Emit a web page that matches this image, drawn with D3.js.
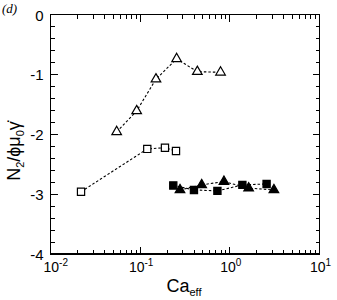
<!DOCTYPE html>
<html>
<head>
	<meta charset='utf-8' />
	<script src="https://d3js.org/d3.v7.min.js"></script>
	<style>
		body { margin: 0; background: white; }
		svg { display: block; font-family: "Liberation Sans", Arial, sans-serif; }
	</style>
</head>
<body>
	<svg id="chart" width="337" height="300"></svg>
	<script>
		// open triangles
		var openTriX = [0.0547, 0.0914, 0.150, 0.255, 0.434, 0.788]
		var openTriY = [-1.96, -1.61, -1.08, -0.74, -0.955, -0.965]
		// open squares
		var openSqX = [0.0219, 0.120, 0.189, 0.251]
		var openSqY = [-2.96, -2.245, -2.225, -2.28]
		// filled squares
		var fillSqX = [0.234, 0.398, 0.727, 1.38, 2.57]
		var fillSqY = [-2.855, -2.93, -2.946, -2.846, -2.83]
		// filled triangles
		var fillTriX = [0.278, 0.485, 0.86, 1.62, 3.10]
		var fillTriY = [-2.93, -2.846, -2.79, -2.90, -2.93]

		var xTicks = [0.01, 0.1, 1, 10]
		var xTickExp = ["-2", "-1", "0", "1"]
		var yTicks = [0, -1, -2, -3, -4]

		var series = [
			{ x: openTriX, y: openTriY, shape: "tri", fill: "white" },
			{ x: openSqX, y: openSqY, shape: "sq", fill: "white" },
			{ x: fillSqX, y: fillSqY, shape: "sq", fill: "black" },
			{ x: fillTriX, y: fillTriY, shape: "tri", fill: "black" }
		]

		var svg = d3.select("#chart"),
			margin = { top: 14.5, left: 50.5, bottom: 46, right: 17.5 },
			width = +svg.attr("width"),
			height = +svg.attr("height");

		var x = d3.scaleLog().domain([0.01, 10]).range([margin.left, width - margin.right])
		var y = d3.scaleLinear().domain([-4, 0]).range([height - margin.bottom, margin.top])

		// minor ticks
		var xMinor = []
		for (var e = -2; e < 1; e++) for (var m = 2; m < 10; m++) xMinor.push(m * Math.pow(10, e))
		var yMinor = d3.range(-4, 0.001, 0.2).map(d => Math.round(d * 10) / 10).filter(d => d % 1 != 0)

		var g = svg.append("g").attr("stroke", "black").attr("shape-rendering", "crispEdges")
		var x0 = x.range()[0], x1 = x.range()[1], y0 = y.range()[0], y1 = y.range()[1]

		function vTicks(vals, len) {
			vals.forEach(v => {
				var px = x(v)
				g.append("line").attr("x1", px).attr("x2", px).attr("y1", y0).attr("y2", y0 - len)
				g.append("line").attr("x1", px).attr("x2", px).attr("y1", y1).attr("y2", y1 + len)
			})
		}
		function hTicks(vals, len) {
			vals.forEach(v => {
				var py = y(v)
				g.append("line").attr("y1", py).attr("y2", py).attr("x1", x0).attr("x2", x0 + len)
				g.append("line").attr("y1", py).attr("y2", py).attr("x1", x1).attr("x2", x1 - len)
			})
		}
		vTicks(xMinor, 4)
		vTicks(xTicks, 7)
		hTicks(yMinor, 4)
		hTicks(yTicks, 7)

		g.append("rect").attr("x", x0).attr("y", y1).attr("width", x1 - x0).attr("height", y0 - y1)
			.attr("fill", "none").attr("stroke-width", 1.5)

		// tick labels
		svg.selectAll(".ylab").data(yTicks).enter().append("text")
			.attr("class", "ylab")
			.attr("x", x0 - 7).attr("y", d => y(d) + 6)
			.attr("text-anchor", "end").attr("font-size", 15)
			.text(d => d == 0 ? "0" : "-" + Math.abs(d))

		var xl = svg.selectAll(".xlab").data(xTicks).enter().append("text")
			.attr("class", "xlab")
			.attr("x", (d, i) => i == 0 ? x0 - 7 : x(d) + 1).attr("y", y0 + 18)
			.attr("text-anchor", (d, i) => i == 0 ? "start" : "middle").attr("font-size", 14)
		xl.append("tspan").text("10")
		xl.append("tspan").attr("dy", -6).attr("font-size", 10).text((d, i) => xTickExp[i])

		// axis titles
		var xt = svg.append("text").attr("x", (x0 + x1) / 2 - 1).attr("y", 292)
			.attr("text-anchor", "middle").attr("font-size", 18)
		xt.append("tspan").text("Ca")
		xt.append("tspan").attr("dy", 4).attr("font-size", 11).text("eff")

		var yt = svg.append("text").attr("transform", "translate(20,151) rotate(-90)")
			.attr("text-anchor", "middle").attr("font-size", 18)
		yt.append("tspan").text("N")
		yt.append("tspan").attr("dy", 4).attr("font-size", 11).text("2")
		yt.append("tspan").attr("dy", -4).text("/\u03d5\u03bc")
		yt.append("tspan").attr("dy", 4).attr("font-size", 11).text("0")
		yt.append("tspan").attr("dy", -4).text("\u03b3\u0307")

		svg.append("text").attr("x", 2).attr("y", 13).attr("font-size", 13)
			.attr("font-style", "italic").attr("font-family", "Liberation Serif, serif").text("(d)")

		// lines + markers
		var line = d3.line().x(d => x(d[0])).y(d => y(d[1]))
		series.forEach(s => {
			var pts = s.x.map((v, i) => [v, s.y[i]])
			svg.append("path").datum(pts).attr("d", line)
				.attr("fill", "none").attr("stroke", "black").attr("stroke-width", 1.1)
				.attr("stroke-dasharray", "2.5,2")
			var sym = s.shape == "tri" ? d3.symbolTriangle : d3.symbolSquare
			var size = s.shape == "tri" ? 40 : 52
			svg.selectAll(null).data(pts).enter().append("path")
				.attr("d", d3.symbol().type(sym).size(size))
				.attr("transform", d => "translate(" + x(d[0]) + "," + y(d[1]) + ")")
				.attr("fill", s.fill).attr("stroke", "black").attr("stroke-width", 1.2)
		})
	</script>
</body>
</html>
